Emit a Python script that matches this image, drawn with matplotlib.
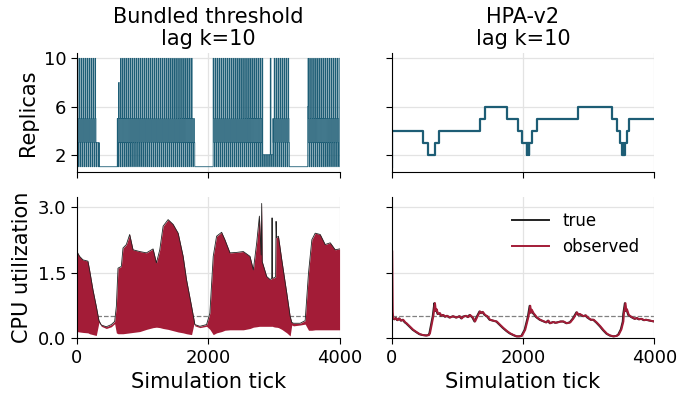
"""Replicas and CPU utilization under lagged metrics: bundled threshold vs HPA-v2."""

import matplotlib
matplotlib.use("Agg")
import matplotlib.pyplot as plt
import numpy as np

TEAL = "#1d5d75"
CRIMSON = "#a31c37"
THRESHOLD = 0.5
LAG = 10

# --- Bundled threshold: replicas oscillate inside spans, flat at 1 elsewhere
REP_CYCLE = [1, 10, 10, 5, 3, 1]           # one oscillation period
REP_STEP = 5                               # ticks per cycle entry
REP_SPANS = [                              # (start, end, highest replica count)
    (0, 295, 10), (295, 336, 3), (611, 641, 8), (641, 1761, 10),
    (1761, 1797, 5), (2061, 2830, 10), (2830, 2942, 2), (2942, 2952, 10),
    (2952, 2982, 2), (2982, 3237, 10), (3502, 3516, 6), (3516, 4000, 10),
]

# --- Bundled threshold: CPU utilization envelope of the dense oscillation
BT_T = [0, 41, 92, 168, 193, 244, 295, 336, 372, 448, 524, 575, 601, 626,
        677, 702, 753, 804, 855, 957, 1059, 1160, 1211, 1262, 1313, 1389,
        1466, 1542, 1618, 1669, 1746, 1786, 1796, 1873, 1975, 2025, 2076,
        2127, 2204, 2254, 2331, 2433, 2534, 2636, 2687, 2738, 2779, 2806,
        2814, 2822, 2890, 2941, 2966, 2972, 2978, 2992, 3026, 3033, 3040,
        3069, 3120, 3196, 3247, 3272, 3298, 3400, 3476, 3527, 3578, 3629,
        3705, 3781, 3858, 3934, 4000]
BT_HI = [1.98, 1.87, 1.79, 1.76, 1.56, 1.11, 0.73, 0.40, 0.30, 0.26, 0.31,
         0.38, 0.73, 1.60, 1.64, 2.06, 2.14, 2.37, 2.02, 1.98, 1.95, 2.04,
         1.72, 2.02, 2.56, 2.71, 2.60, 2.40, 1.87, 1.34, 0.73, 0.40, 0.31,
         0.27, 0.31, 0.57, 1.87, 2.33, 2.42, 2.25, 1.95, 1.96, 1.98, 1.87,
         1.56, 2.18, 2.79, 1.90, 3.08, 1.75, 1.41, 1.34, 1.36, 2.75, 1.38,
         1.37, 1.40, 2.67, 2.30, 2.33, 1.79, 1.03, 0.50, 0.36, 0.34, 0.34,
         0.40, 1.49, 2.25, 2.40, 2.37, 2.14, 2.18, 2.02, 2.04]
BT_LO = [0.15, 0.14, 0.13, 0.12, 0.10, 0.08, 0.06, 0.36, 0.27, 0.22, 0.26,
         0.33, 0.12, 0.10, 0.10, 0.10, 0.11, 0.12, 0.13, 0.15, 0.20, 0.24,
         0.25, 0.24, 0.22, 0.20, 0.17, 0.14, 0.12, 0.10, 0.08, 0.35, 0.28,
         0.24, 0.27, 0.20, 0.08, 0.12, 0.15, 0.18, 0.19, 0.19, 0.19, 0.22,
         0.25, 0.26, 0.27, 0.27, 0.27, 0.27, 0.27, 0.27, 0.27, 0.27, 0.27,
         0.26, 0.25, 0.25, 0.25, 0.24, 0.20, 0.12, 0.05, 0.30, 0.28, 0.30,
         0.32, 0.18, 0.18, 0.19, 0.19, 0.19, 0.19, 0.19, 0.19]

# --- HPA-v2: replicas (step changes)
HPA_REP_T = [0, 12, 484, 550, 662, 718, 1339, 1415, 1756, 1924, 1985, 2061,
             2068, 2074, 2081, 2088, 2095, 2143, 2209, 2845, 3359, 3431, 3471,
             3512, 3519, 3526, 3533, 3540, 3547, 3588, 3619, 4000]
HPA_REP = [1, 4, 3, 2, 3, 4, 5, 6, 5, 4, 3, 2, 3, 2, 3, 2, 3, 4, 5, 6, 5, 4,
           3, 2, 3, 2, 3, 2, 3, 4, 5, 5]

# --- HPA-v2: CPU utilization
HPA_T = [0, 8, 15, 40, 60, 85, 110, 140, 168, 200, 219, 260, 321, 370, 422,
         470, 524, 560, 575, 600, 626, 651, 665, 677, 700, 728, 750, 780, 810,
         840, 880, 931, 980, 1030, 1060, 1084, 1130, 1160, 1186, 1230, 1262,
         1300, 1338, 1360, 1380, 1415, 1450, 1491, 1540, 1593, 1640, 1695,
         1750, 1796, 1850, 1898, 1940, 1975, 2025, 2060, 2076, 2102, 2115,
         2125, 2153, 2180, 2200, 2254, 2300, 2350, 2380, 2407, 2460, 2490,
         2520, 2570, 2611, 2660, 2712, 2760, 2814, 2840, 2860, 2916, 2950,
         2980, 3030, 3069, 3120, 3170, 3220, 3272, 3320, 3374, 3420, 3450,
         3490, 3520, 3527, 3552, 3565, 3575, 3603, 3630, 3650, 3700, 3730,
         3760, 3800, 3840, 3870, 3930, 3960, 4000]
HPA_CPU = [1.98, 0.60, 0.46, 0.43, 0.46, 0.41, 0.45, 0.40, 0.42, 0.36, 0.34,
           0.28, 0.19, 0.14, 0.09, 0.07, 0.06, 0.07, 0.11, 0.30, 0.50, 0.80,
           0.62, 0.66, 0.55, 0.57, 0.51, 0.53, 0.49, 0.51, 0.47, 0.50, 0.47,
           0.50, 0.45, 0.49, 0.51, 0.48, 0.53, 0.47, 0.38, 0.50, 0.61, 0.57,
           0.60, 0.53, 0.50, 0.42, 0.40, 0.38, 0.31, 0.23, 0.16, 0.11, 0.07,
           0.04, 0.04, 0.05, 0.19, 0.40, 0.50, 0.74, 0.58, 0.65, 0.57, 0.52,
           0.48, 0.42, 0.39, 0.36, 0.40, 0.34, 0.37, 0.35, 0.36, 0.38, 0.38,
           0.34, 0.36, 0.45, 0.59, 0.53, 0.55, 0.50, 0.52, 0.47, 0.42, 0.42,
           0.35, 0.27, 0.18, 0.10, 0.06, 0.04, 0.05, 0.08, 0.20, 0.38, 0.55,
           0.80, 0.62, 0.66, 0.53, 0.50, 0.48, 0.44, 0.46, 0.43, 0.44, 0.41,
           0.42, 0.40, 0.39, 0.38]


def bundled_replicas():
    t = np.arange(0, 4000, REP_STEP)
    cycle = np.array(REP_CYCLE)[(t // REP_STEP) % len(REP_CYCLE)]
    rep = np.ones_like(t)
    for start, end, cap in REP_SPANS:
        m = (t >= start) & (t < end)
        rep[m] = np.minimum(cycle[m], cap)
    return t, rep


fig = plt.figure(figsize=(6.99, 3.95), dpi=100)
gs = fig.add_gridspec(2, 2, left=0.110, right=0.936, top=0.866, bottom=0.144,
                      wspace=0.198, hspace=0.19, height_ratios=[119, 141])
ax_rl = fig.add_subplot(gs[0, 0])
ax_rr = fig.add_subplot(gs[0, 1], sharey=ax_rl, sharex=ax_rl)
ax_cl = fig.add_subplot(gs[1, 0], sharex=ax_rl)
ax_cr = fig.add_subplot(gs[1, 1], sharey=ax_cl, sharex=ax_rl)

t, rep = bundled_replicas()
ax_rl.plot(t, rep, color=TEAL, lw=0.6, drawstyle="steps-post")
ax_rr.plot(HPA_REP_T, HPA_REP, color=TEAL, lw=1.6, drawstyle="steps-post")

ax_cl.plot(BT_T, BT_HI, color="#222222", lw=0.6)
ax_cl.fill_between(BT_T, BT_LO, BT_HI, color=CRIMSON, lw=0)
ax_cr.plot(HPA_T, HPA_CPU, color="#222222", lw=1.4, label="true")
ax_cr.plot(np.array(HPA_T) + LAG, HPA_CPU, color=CRIMSON, lw=1.4, label="observed")

for ax in (ax_cl, ax_cr):
    ax.axhline(THRESHOLD, color="gray", ls="--", lw=0.9, zorder=0.5)

ax_rl.set_xlim(0, 4000)
ax_rl.set_xticks([0, 2000, 4000])
ax_rl.set_yticks([2, 6, 10])
ax_cl.set_ylim(0, 3.23)
ax_cl.set_yticks([0.0, 1.5, 3.0])
ax_cl.set_yticklabels(["0.0", "1.5", "3.0"])

for ax in (ax_rl, ax_rr, ax_cl, ax_cr):
    ax.spines[["top", "right"]].set_visible(False)
    ax.grid(True, color="#e3e3e3", lw=0.9)
    ax.set_axisbelow(True)
    ax.tick_params(labelsize=13, length=4)
for ax in (ax_rl, ax_rr):
    ax.tick_params(labelbottom=False)
for ax in (ax_rr, ax_cr):
    ax.tick_params(labelleft=False)

ax_rl.set_title("Bundled threshold\nlag k=10", fontsize=15, linespacing=1.1)
ax_rr.set_title("HPA-v2\nlag k=10", fontsize=15, linespacing=1.1)
ax_rl.set_ylabel("Replicas", fontsize=15)
ax_cl.set_ylabel("CPU utilization", fontsize=15)
ax_cl.set_xlabel("Simulation tick", fontsize=15)
ax_cr.set_xlabel("Simulation tick", fontsize=15)
ax_cr.legend(loc="upper right", frameon=False, fontsize=12, handlelength=2.2)

fig.savefig("out.png", dpi=100)
plt.close(fig)
